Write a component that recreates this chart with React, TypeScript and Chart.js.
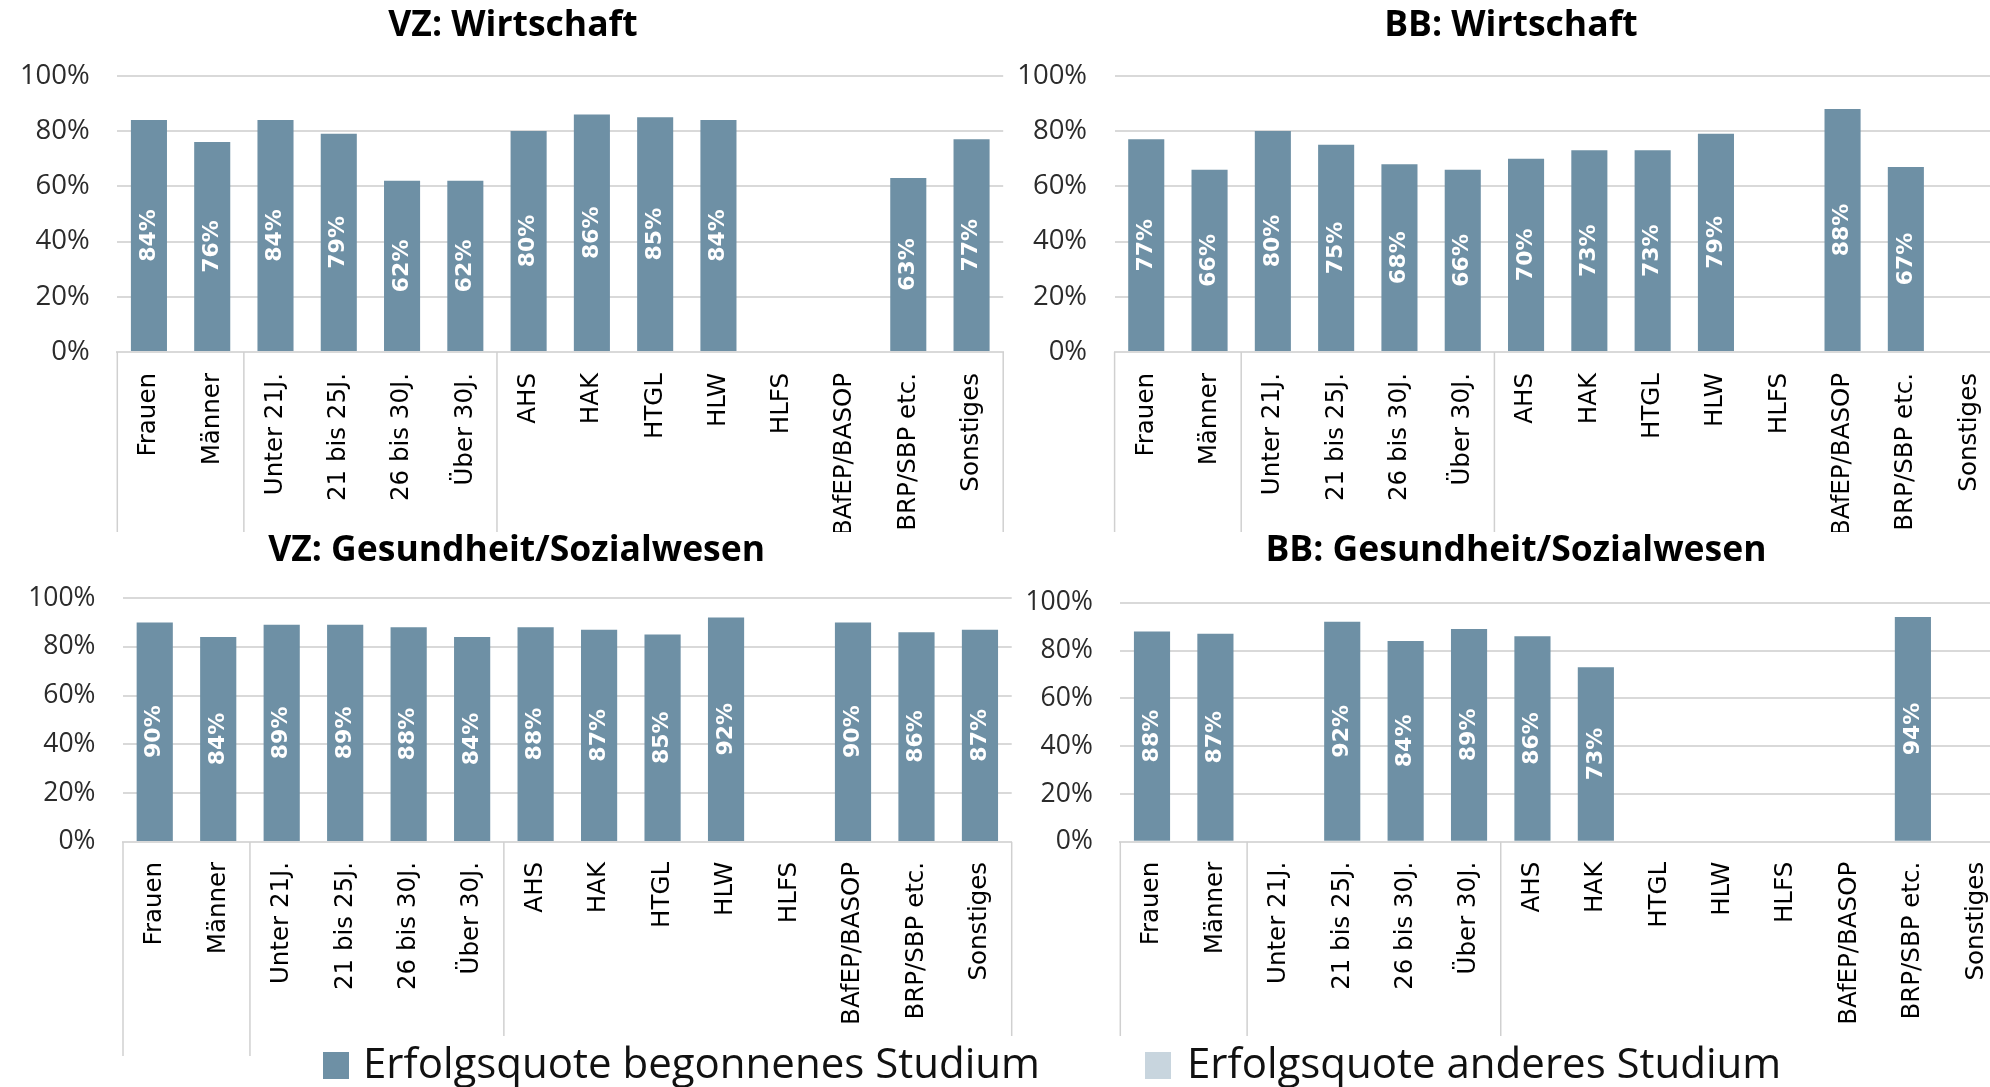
import React, { useEffect, useRef } from 'react';
import { Chart, registerables } from 'chart.js';

Chart.register(...registerables);

// ---------- data ----------
const categories = [
  'Frauen', 'Männer', 'Unter 21J.', '21 bis 25J.', '26 bis 30J.', 'Über 30J.',
  'AHS', 'HAK', 'HTGL', 'HLW', 'HLFS', 'BAfEP/BASOP', 'BRP/SBP etc.', 'Sonstiges',
];
// sizes of the category groups (Geschlecht, Alter, Vorbildung)
const categoryGroups = [2, 4, 8];

const seriesNames = ['Erfolgsquote begonnenes Studium', 'Erfolgsquote anderes Studium'];

const vzWirtschaft = [84, 76, 84, 79, 62, 62, 80, 86, 85, 84, null, null, 63, 77];
const bbWirtschaft = [77, 66, 80, 75, 68, 66, 70, 73, 73, 79, null, 88, 67, null];
const vzGesundheit = [90, 84, 89, 89, 88, 84, 88, 87, 85, 92, null, 90, 86, 87];
const bbGesundheit = [88, 87, null, 92, 84, 89, 86, 73, null, null, null, null, 94, null];
const anderesStudium = [null, null, null, null, null, null, null, null, null, null, null, null, null, null];

const yTickValues = [0, 20, 40, 60, 80, 100];

const panelTitles = ['VZ: Wirtschaft', 'BB: Wirtschaft', 'VZ: Gesundheit/Sozialwesen', 'BB: Gesundheit/Sozialwesen'];

// ---------- style ----------
const BAR = '#6E90A5';
const BAR2 = '#C8D5DE';
const GRID = '#D9D9D9';
const SEP = '#D0D0D0';

type Box = { left: number; top: number; width: number; height: number };
type Area = { left: number; top: number; right: number; bottom: number };
type PanelSpec = {
  title: string;
  values: (number | null)[];
  box: Box;
  area: Area; // page coordinates
  titleX: number;
  titleY: number;
  labelPad: number;
  tickSize: number;
};

const panels: PanelSpec[] = [
  {
    title: panelTitles[0], values: vzWirtschaft,
    box: { left: 0, top: 0, width: 1006, height: 532 },
    area: { left: 117.3, top: 75.8, right: 1003.2, bottom: 352 },
    titleX: 513, titleY: 26, labelPad: 21, tickSize: 27.5,
  },
  {
    title: panelTitles[1], values: bbWirtschaft,
    box: { left: 1006, top: 0, width: 1000, height: 532 },
    area: { left: 1114.6, top: 75.8, right: 2000.8, bottom: 352 },
    titleX: 1511, titleY: 26, labelPad: 21, tickSize: 27.5,
  },
  {
    title: panelTitles[2], values: vzGesundheit,
    box: { left: 0, top: 532, width: 1014, height: 524 },
    area: { left: 123, top: 598, right: 1011.7, bottom: 841.9 },
    titleX: 516.6, titleY: 551, labelPad: 20, tickSize: 26.5,
  },
  {
    title: panelTitles[3], values: bbGesundheit,
    box: { left: 1014, top: 532, width: 1000, height: 524 },
    area: { left: 1120.3, top: 602.7, right: 2008, bottom: 841.8 },
    titleX: 1516, titleY: 551, labelPad: 20, tickSize: 26.5,
  },
];

const decoPlugin = {
  id: 'panelDeco',
  afterDatasetsDraw(chart: any) {
    const ctx = chart.ctx;
    const meta = chart.getDatasetMeta(0);
    const data = chart.data.datasets[0].data;
    ctx.save();
    ctx.fillStyle = '#FFFFFF';
    ctx.font = "bold 22px 'DejaVu Sans', sans-serif";
    ctx.textAlign = 'center';
    ctx.textBaseline = 'middle';
    meta.data.forEach((el: any, i: number) => {
      const v = data[i];
      if (v === null || v === undefined) return;
      const p = el.getProps(['x', 'y', 'base'], true);
      ctx.save();
      ctx.translate(p.x, (p.y + p.base) / 2);
      ctx.rotate(-Math.PI / 2);
      ctx.fillText(Math.round(v) + '%', 0, 0);
      ctx.restore();
    });
    ctx.restore();
  },
  afterDraw(chart: any, _args: any, opts: any) {
    const ctx = chart.ctx;
    const xs = chart.scales.x;
    const n = chart.data.labels.length;
    const step = xs.getPixelForTick(1) - xs.getPixelForTick(0);
    const bounds = [0];
    categoryGroups.forEach((g) => bounds.push(bounds[bounds.length - 1] + g));
    ctx.save();
    ctx.strokeStyle = SEP;
    ctx.lineWidth = 1.5;
    bounds.forEach((b) => {
      const x = b < n ? xs.getPixelForTick(b) - step / 2 : xs.getPixelForTick(n - 1) + step / 2;
      ctx.beginPath();
      ctx.moveTo(x, chart.chartArea.bottom);
      ctx.lineTo(x, chart.height);
      ctx.stroke();
    });
    ctx.fillStyle = '#000000';
    ctx.font = "bold 35.5px 'Open Sans', sans-serif";
    ctx.textAlign = 'center';
    ctx.textBaseline = 'middle';
    ctx.fillText(opts.title, opts.titleX, opts.titleY);
    ctx.restore();
  },
};

function Panel({ spec }: { spec: PanelSpec }) {
  const ref = useRef<HTMLCanvasElement>(null);
  useEffect(() => {
    const { box, area } = spec;
    const rel = {
      left: area.left - box.left,
      top: area.top - box.top,
      right: area.right - box.left,
      bottom: area.bottom - box.top,
    };
    const chart = new Chart(ref.current as HTMLCanvasElement, {
      type: 'bar',
      data: {
        labels: categories,
        datasets: [
          { label: seriesNames[0], data: spec.values, backgroundColor: BAR, borderWidth: 0, barPercentage: 0.57, categoryPercentage: 1 },
          { label: seriesNames[1], data: anderesStudium, backgroundColor: BAR2, borderWidth: 0, barPercentage: 0.57, categoryPercentage: 1 },
        ],
      },
      options: {
        responsive: false,
        animation: false,
        layout: { padding: { left: 0, top: rel.top, right: box.width - rel.right, bottom: 0 } },
        plugins: {
          legend: { display: false },
          tooltip: { enabled: false },
          title: { display: false },
          panelDeco: { title: spec.title, titleX: spec.titleX - box.left, titleY: spec.titleY - box.top },
        } as any,
        scales: {
          x: {
            stacked: true,
            grid: { display: false, drawTicks: false },
            border: { display: true, color: GRID, width: 2 },
            ticks: {
              autoSkip: false, maxRotation: 90, minRotation: 90, padding: spec.labelPad,
              color: '#000000', font: { family: "'DejaVu Sans', sans-serif", size: 24.5 },
            },
            afterFit: (s: any) => { s.height = box.height - rel.bottom; s.paddingLeft = 0; s.paddingRight = 0; },
          },
          y: {
            stacked: true, min: 0, max: 100,
            afterBuildTicks: (s: any) => { s.ticks = yTickValues.map((v) => ({ value: v })); },
            ticks: {
              padding: 27.5, color: '#2b2b2b',
              font: { family: "'Open Sans', sans-serif", size: spec.tickSize },
              callback: (v: any) => v + '%',
            },
            grid: { color: GRID, lineWidth: 2, drawTicks: false },
            border: { display: false },
            afterFit: (s: any) => { s.width = rel.left; s.paddingTop = 0; s.paddingBottom = 0; },
          },
        } as any,
      },
      plugins: [decoPlugin as any],
    });
    let alive = true;
    if ((document as any).fonts && (document as any).fonts.ready) {
      (document as any).fonts.ready.then(() => { if (alive) chart.update(); });
    }
    return () => { alive = false; chart.destroy(); };
  }, [spec]);
  return (
    <div style={{ position: 'absolute', left: spec.box.left, top: spec.box.top, width: spec.box.width, height: spec.box.height, overflow: 'hidden' }}>
      <canvas ref={ref} width={spec.box.width} height={spec.box.height} style={{ display: 'block' }} />
    </div>
  );
}

const legendColors = [BAR, BAR2];
const legendPos = [{ sq: 323, tx: 363 }, { sq: 1145, tx: 1187 }];

export default function App() {
  return (
    <div style={{ position: 'absolute', left: 0, top: 0, width: 1990, height: 1087, overflow: 'hidden', background: '#FFFFFF' }}>
      {panels.map((p, i) => <Panel key={i} spec={p} />)}
      <div style={{ position: 'absolute', left: 300, top: 1036, width: 1600, height: 51, background: '#FFFFFF' }}>
        {seriesNames.map((name, i) => (
          <React.Fragment key={i}>
            <div style={{ position: 'absolute', left: legendPos[i].sq - 300, top: 16, width: 26, height: 27, background: legendColors[i] }} />
            <div style={{ position: 'absolute', left: legendPos[i].tx - 300, top: 4.7, fontFamily: "'Open Sans', sans-serif", fontSize: 42, lineHeight: '42px', color: '#111111', whiteSpace: 'nowrap' }}>{name}</div>
          </React.Fragment>
        ))}
      </div>
    </div>
  );
}
